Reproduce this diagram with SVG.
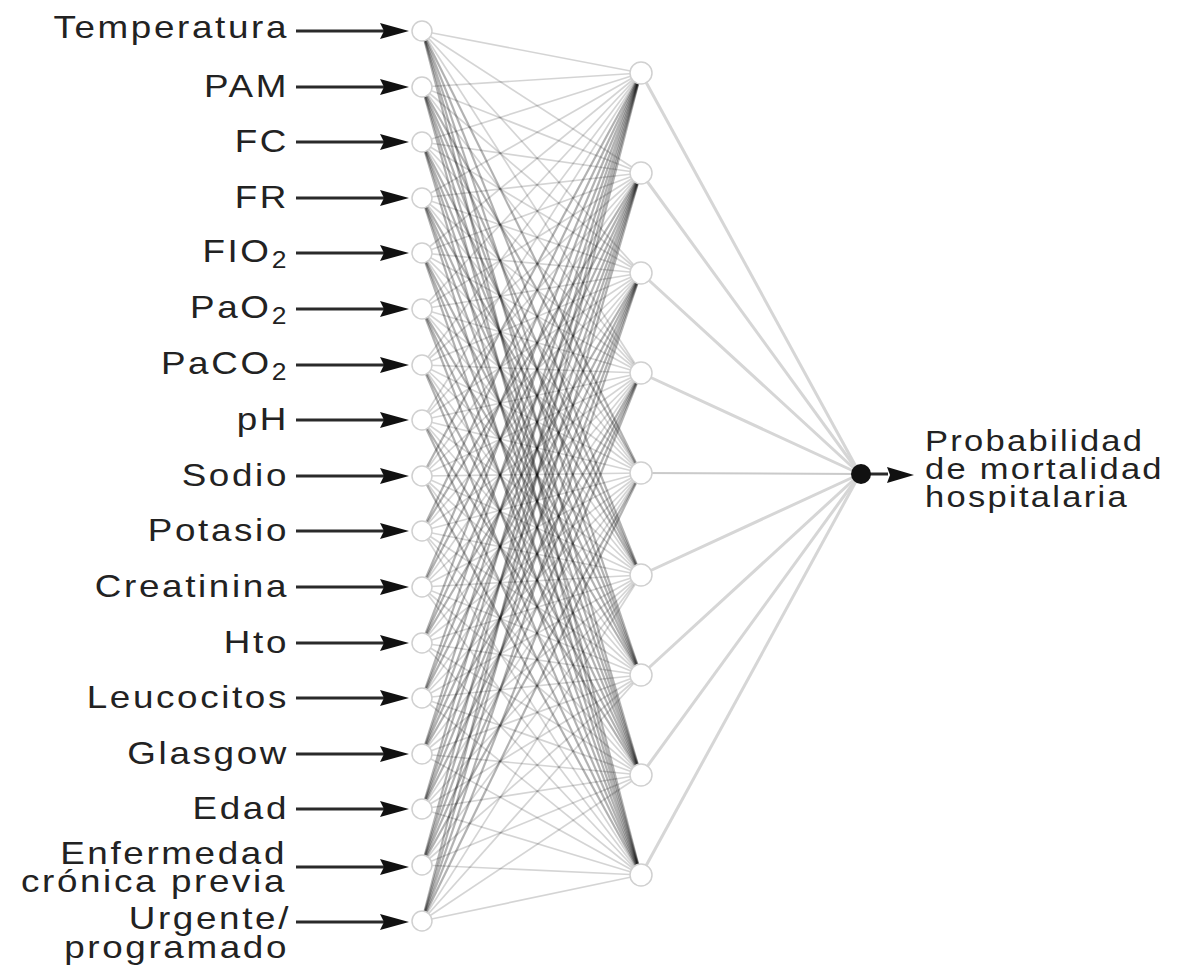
<svg xmlns="http://www.w3.org/2000/svg" xmlns:xlink="http://www.w3.org/1999/xlink" width="1180" height="973" viewBox="0 0 1180 973">
<style>
.lbl{font-family:"Liberation Sans",Arial,sans-serif;font-size:32px;fill:#222;text-anchor:end;letter-spacing:2.3px}
.out{font-family:"Liberation Sans",Arial,sans-serif;font-size:30px;fill:#222;letter-spacing:2px}
.lt path{stroke:#000;stroke-opacity:0.17;stroke-width:1.7;fill:none}
.dk path{stroke:#000;stroke-opacity:0.3;stroke-width:2.2;fill:none}
.ho path{stroke:#d6d6d6;stroke-width:3;fill:none}
.in{fill:#fff;stroke:#d0d0d0;stroke-width:1.5}
.hid{fill:#fff;stroke:#d0d0d0;stroke-width:1.5}
</style>
<defs>
<g id="arrow"><path d="M296 0H384" stroke="#2a2a2a" stroke-width="3"/><path d="M409 0L380 -8L384 0L380 8Z" fill="#111"/></g>
</defs>
<rect width="1180" height="973" fill="#fff"/>
<g id="connectors">
<g class="lt">
<path d="M422 31L641 73"/><path d="M422 87L641 73"/><path d="M422 142L641 73"/><path d="M422 198L641 73"/><path d="M422 253L641 73"/><path d="M422 309L641 73"/><path d="M422 365L641 73"/><path d="M422 420L641 73"/>
<path d="M422 31L641 173"/><path d="M422 87L641 173"/><path d="M422 142L641 173"/><path d="M422 198L641 173"/><path d="M422 253L641 173"/><path d="M422 309L641 173"/><path d="M422 365L641 173"/><path d="M422 420L641 173"/><path d="M422 476L641 173"/>
<path d="M422 31L641 273"/><path d="M422 87L641 273"/><path d="M422 142L641 273"/><path d="M422 198L641 273"/><path d="M422 253L641 273"/><path d="M422 309L641 273"/><path d="M422 365L641 273"/><path d="M422 420L641 273"/><path d="M422 476L641 273"/><path d="M422 531L641 273"/><path d="M422 587L641 273"/>
<path d="M422 31L641 373"/><path d="M422 87L641 373"/><path d="M422 142L641 373"/><path d="M422 198L641 373"/><path d="M422 253L641 373"/><path d="M422 309L641 373"/><path d="M422 365L641 373"/><path d="M422 420L641 373"/><path d="M422 476L641 373"/><path d="M422 531L641 373"/><path d="M422 587L641 373"/><path d="M422 643L641 373"/><path d="M422 698L641 373"/>
<path d="M422 142L641 473"/><path d="M422 198L641 473"/><path d="M422 253L641 473"/><path d="M422 309L641 473"/><path d="M422 365L641 473"/><path d="M422 420L641 473"/><path d="M422 476L641 473"/><path d="M422 531L641 473"/><path d="M422 587L641 473"/><path d="M422 643L641 473"/><path d="M422 698L641 473"/><path d="M422 754L641 473"/><path d="M422 809L641 473"/>
<path d="M422 253L641 575"/><path d="M422 309L641 575"/><path d="M422 365L641 575"/><path d="M422 420L641 575"/><path d="M422 476L641 575"/><path d="M422 531L641 575"/><path d="M422 587L641 575"/><path d="M422 643L641 575"/><path d="M422 698L641 575"/><path d="M422 754L641 575"/><path d="M422 809L641 575"/><path d="M422 865L641 575"/><path d="M422 921L641 575"/>
<path d="M422 365L641 675"/><path d="M422 420L641 675"/><path d="M422 476L641 675"/><path d="M422 531L641 675"/><path d="M422 587L641 675"/><path d="M422 643L641 675"/><path d="M422 698L641 675"/><path d="M422 754L641 675"/><path d="M422 809L641 675"/><path d="M422 865L641 675"/><path d="M422 921L641 675"/>
<path d="M422 476L641 775"/><path d="M422 531L641 775"/><path d="M422 587L641 775"/><path d="M422 643L641 775"/><path d="M422 698L641 775"/><path d="M422 754L641 775"/><path d="M422 809L641 775"/><path d="M422 865L641 775"/><path d="M422 921L641 775"/>
<path d="M422 531L641 875"/><path d="M422 587L641 875"/><path d="M422 643L641 875"/><path d="M422 698L641 875"/><path d="M422 754L641 875"/><path d="M422 809L641 875"/><path d="M422 865L641 875"/><path d="M422 921L641 875"/>
</g>
<g class="dk">
<path d="M422 476L641 73"/><path d="M422 531L641 73"/><path d="M422 587L641 73"/><path d="M422 643L641 73"/><path d="M422 698L641 73"/><path d="M422 754L641 73"/><path d="M422 809L641 73"/><path d="M422 865L641 73"/><path d="M422 921L641 73"/>
<path d="M422 531L641 173"/><path d="M422 587L641 173"/><path d="M422 643L641 173"/><path d="M422 698L641 173"/><path d="M422 754L641 173"/><path d="M422 809L641 173"/><path d="M422 865L641 173"/><path d="M422 921L641 173"/>
<path d="M422 643L641 273"/><path d="M422 698L641 273"/><path d="M422 754L641 273"/><path d="M422 809L641 273"/><path d="M422 865L641 273"/><path d="M422 921L641 273"/>
<path d="M422 754L641 373"/><path d="M422 809L641 373"/><path d="M422 865L641 373"/><path d="M422 921L641 373"/>
<path d="M422 31L641 473"/><path d="M422 87L641 473"/><path d="M422 865L641 473"/><path d="M422 921L641 473"/>
<path d="M422 31L641 575"/><path d="M422 87L641 575"/><path d="M422 142L641 575"/><path d="M422 198L641 575"/>
<path d="M422 31L641 675"/><path d="M422 87L641 675"/><path d="M422 142L641 675"/><path d="M422 198L641 675"/><path d="M422 253L641 675"/><path d="M422 309L641 675"/>
<path d="M422 31L641 775"/><path d="M422 87L641 775"/><path d="M422 142L641 775"/><path d="M422 198L641 775"/><path d="M422 253L641 775"/><path d="M422 309L641 775"/><path d="M422 365L641 775"/><path d="M422 420L641 775"/>
<path d="M422 31L641 875"/><path d="M422 87L641 875"/><path d="M422 142L641 875"/><path d="M422 198L641 875"/><path d="M422 253L641 875"/><path d="M422 309L641 875"/><path d="M422 365L641 875"/><path d="M422 420L641 875"/><path d="M422 476L641 875"/>
</g>
<g class="ho">
<path d="M641 73L860 474"/><path d="M641 173L860 474"/><path d="M641 273L860 474"/><path d="M641 373L860 474"/><path d="M641 473L860 474" style="stroke:#cacaca;stroke-width:2"/><path d="M641 575L860 474"/><path d="M641 675L860 474"/><path d="M641 775L860 474"/><path d="M641 875L860 474"/>
</g>
<g id="input-arrows">
<use xlink:href="#arrow" y="31"/><use xlink:href="#arrow" y="87"/><use xlink:href="#arrow" y="142"/><use xlink:href="#arrow" y="198"/><use xlink:href="#arrow" y="253"/><use xlink:href="#arrow" y="309"/><use xlink:href="#arrow" y="365"/><use xlink:href="#arrow" y="420"/><use xlink:href="#arrow" y="476"/><use xlink:href="#arrow" y="531"/><use xlink:href="#arrow" y="587"/><use xlink:href="#arrow" y="643"/><use xlink:href="#arrow" y="698"/><use xlink:href="#arrow" y="754"/><use xlink:href="#arrow" y="809"/><use xlink:href="#arrow" y="867"/><use xlink:href="#arrow" y="922"/>
</g>
<g id="output-arrow">
<path d="M870 474H888" stroke="#2a2a2a" stroke-width="3"/>
<path d="M914 475L887 467L890 475L887 483Z" fill="#111"/>
</g>
</g>
<g id="input-nodes">
<circle class="in" cx="422" cy="31" r="10"/><circle class="in" cx="422" cy="87" r="10"/><circle class="in" cx="422" cy="142" r="10"/><circle class="in" cx="422" cy="198" r="10"/><circle class="in" cx="422" cy="253" r="10"/><circle class="in" cx="422" cy="309" r="10"/><circle class="in" cx="422" cy="365" r="10"/><circle class="in" cx="422" cy="420" r="10"/><circle class="in" cx="422" cy="476" r="10"/><circle class="in" cx="422" cy="531" r="10"/><circle class="in" cx="422" cy="587" r="10"/><circle class="in" cx="422" cy="643" r="10"/><circle class="in" cx="422" cy="698" r="10"/><circle class="in" cx="422" cy="754" r="10"/><circle class="in" cx="422" cy="809" r="10"/><circle class="in" cx="422" cy="865" r="10"/><circle class="in" cx="422" cy="921" r="10"/>
</g>
<g id="hidden-nodes">
<circle class="hid" cx="641" cy="73" r="11"/><circle class="hid" cx="641" cy="173" r="11"/><circle class="hid" cx="641" cy="273" r="11"/><circle class="hid" cx="641" cy="373" r="11"/><circle class="hid" cx="641" cy="473" r="11"/><circle class="hid" cx="641" cy="575" r="11"/><circle class="hid" cx="641" cy="675" r="11"/><circle class="hid" cx="641" cy="775" r="11"/><circle class="hid" cx="641" cy="875" r="11"/>
</g>
<g id="output-node"><circle cx="861" cy="474" r="10" fill="#111"/></g>
<g id="labels">
<text class="lbl" transform="translate(289,38) scale(1.15,1)">Temperatura</text>
<text class="lbl" transform="translate(289,97) scale(1.15,1)">PAM</text>
<text class="lbl" transform="translate(289,152) scale(1.15,1)">FC</text>
<text class="lbl" transform="translate(289,208) scale(1.15,1)">FR</text>
<text class="lbl" transform="translate(289,262) scale(1.15,1)">FIO<tspan font-size="23" dy="6">2</tspan></text>
<text class="lbl" transform="translate(289,318) scale(1.15,1)">PaO<tspan font-size="23" dy="6">2</tspan></text>
<text class="lbl" transform="translate(289,374) scale(1.15,1)">PaCO<tspan font-size="23" dy="6">2</tspan></text>
<text class="lbl" transform="translate(289,430) scale(1.15,1)">pH</text>
<text class="lbl" transform="translate(289,486) scale(1.15,1)">Sodio</text>
<text class="lbl" transform="translate(289,541) scale(1.15,1)">Potasio</text>
<text class="lbl" transform="translate(289,597) scale(1.15,1)">Creatinina</text>
<text class="lbl" transform="translate(289,653) scale(1.15,1)">Hto</text>
<text class="lbl" transform="translate(289,708) scale(1.15,1)">Leucocitos</text>
<text class="lbl" transform="translate(289,764) scale(1.15,1)">Glasgow</text>
<text class="lbl" transform="translate(289,819) scale(1.15,1)">Edad</text>
<text class="lbl" transform="translate(287,864) scale(1.15,1)">Enfermedad</text>
<text class="lbl" transform="translate(287,892) scale(1.15,1)">crónica previa</text>
<text class="lbl" transform="translate(291,929) scale(1.15,1)">Urgente/</text>
<text class="lbl" transform="translate(289,958) scale(1.15,1)">programado</text>
<text class="out" transform="translate(925,451) scale(1.15,1)">Probabilidad</text>
<text class="out" transform="translate(925,479) scale(1.15,1)">de mortalidad</text>
<text class="out" transform="translate(925,507) scale(1.15,1)">hospitalaria</text>
</g>
</svg>
